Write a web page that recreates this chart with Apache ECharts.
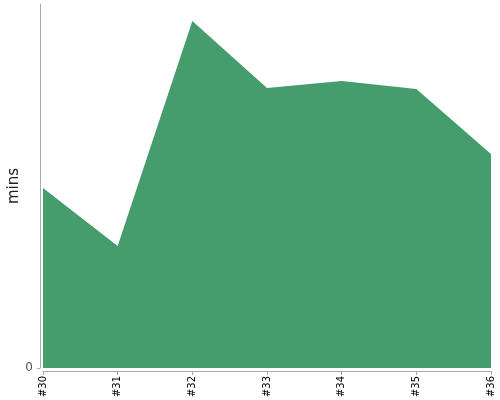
<!DOCTYPE html>
<html><head><meta charset="utf-8">
<script src="https://cdn.jsdelivr.net/npm/echarts@6/dist/echarts.min.js"></script>
<style>html,body{margin:0;padding:0;background:#fff}#c{width:500px;height:400px}</style>
</head><body><div id="c"></div>
<script>
const categories = ['#30','#31','#32','#33','#34','#35','#36'];
const minutes = [45, 30.5, 86.75, 70, 71.75, 69.75, 53.5];
const yMax = 91;
const yTicks = [0];

const chart = echarts.init(document.getElementById('c'), null, {renderer:'canvas'});
chart.setOption({
  animation:false,
  grid:{left:43, right:9, top:4, bottom:32, containLabel:false, outerBoundsMode:'none'},
  xAxis:{
    type:'category', data:categories, boundaryGap:false, offset:3,
    axisLine:{show:true, onZero:false, lineStyle:{color:'#aaa', width:1}},
    axisTick:{show:true, alignWithLabel:true, length:4, lineStyle:{color:'#aaa'}},
    axisLabel:{rotate:90, margin:5, fontSize:10, color:'#000', fontFamily:'DejaVu Sans', interval:0},
    splitLine:{show:false}
  },
  yAxis:{
    type:'value', min:0, max:yMax, offset:3,
    name:'mins', nameLocation:'middle', nameGap:18, nameMoveOverlap:false,
    nameTextStyle:{fontSize:15, color:'#222', fontFamily:'DejaVu Sans'},
    axisLine:{show:true, onZero:false, lineStyle:{color:'#aaa', width:1}},
    axisTick:{show:true, length:3, lineStyle:{color:'#aaa'}, customValues:yTicks},
    axisLabel:{fontSize:12, color:'#555', margin:7, fontFamily:'DejaVu Sans', customValues:yTicks},
    splitLine:{show:false}
  },
  series:[{
    type:'line', data:minutes, showSymbol:false,
    lineStyle:{width:0}, areaStyle:{color:'#459c6c', opacity:1}
  }]
});
</script></body></html>
